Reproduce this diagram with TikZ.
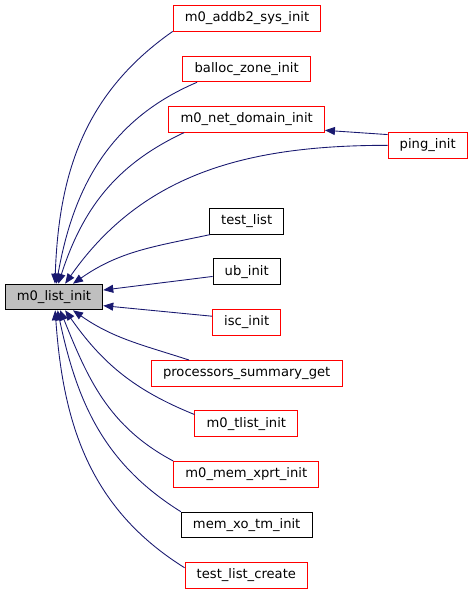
\documentclass[tikz,border=0pt]{standalone}
\usepackage{fontspec}
\setmainfont{DejaVu Sans}
\usepackage{xcolor}
\usepackage{tikz}
\usetikzlibrary{arrows.meta}
\definecolor{CGEdge}{HTML}{191970}
\definecolor{CGRed}{HTML}{FF0000}
\definecolor{CGGray}{HTML}{BFBFBF}

\begin{document}
\begin{tikzpicture}[x=1cm,y=1cm,
  fn/.style={draw=CGRed,line width=.8pt,fill=white,minimum height=.77cm,inner xsep=.35cm,inner ysep=0pt,font=\fontsize{11.2}{13}\selectfont},
  fndoc/.style={fn,draw=black},
  fnmain/.style={fn,draw=black,fill=CGGray},
  call/.style={CGEdge,line width=.75pt,-{Triangle[length=.3cm,width=.24cm]}}]
\path[use as bounding box] (0,0) rectangle (14.19,17.85);
\node[fnmain] (main) at (1.62,8.94) {m0\_list\_init};
\node[fn] (addb2) at (7.41,17.30) {m0\_addb2\_sys\_init};
\node[fn] (balloc) at (7.40,15.78) {balloc\_zone\_init};
\node[fn] (netdom) at (7.40,14.27) {m0\_net\_domain\_init};
\node[fn] (ping) at (12.83,13.49) {ping\_init};
\node[fndoc] (testlist) at (7.40,11.21) {test\_list};
\node[fndoc] (ubinit) at (7.40,9.70) {ub\_init};
\node[fn] (iscinit) at (7.40,8.18) {isc\_init};
\node[fn] (procsum) at (7.40,6.65) {processors\_summary\_get};
\node[fn] (tlist) at (7.39,5.14) {m0\_tlist\_init};
\node[fn] (memxprt) at (7.39,3.62) {m0\_mem\_xprt\_init};
\node[fndoc] (memxotm) at (7.40,2.10) {mem\_xo\_tm\_init};
\node[fn] (tlcreate) at (7.39,0.59) {test\_list\_create};
\draw[call] (addb2.190) to[out=215,in=88] (main.86);
\draw[call] (balloc.195) to[out=203,in=80] (main.80);
\draw[call] (netdom.192) to[out=205,in=72] (main.72);
\draw[call] (ping.165) -- (netdom.-8);
\draw[call] (ping.west) to[out=180,in=55] (main.50);
\draw[call] (testlist.200) to[out=192,in=35] (main.35);
\draw[call] (ubinit.188) -- (main.8);
\draw[call] (iscinit.170) -- (main.-10);
\draw[call] (procsum.167) to[out=162,in=-35] (main.-35);
\draw[call] (tlist.170) to[out=158,in=-55] (main.-50);
\draw[call] (memxprt.north west) to[out=152,in=-68] (main.-65);
\draw[call] (memxotm.north west) to[out=148,in=-78] (main.-75);
\draw[call] (tlcreate.173) to[out=148,in=-86] (main.-85);
\end{tikzpicture}
\end{document}
